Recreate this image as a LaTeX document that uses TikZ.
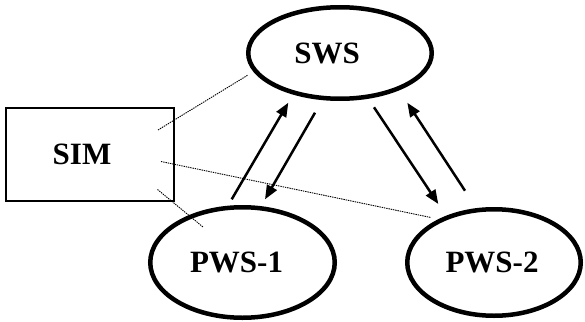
\documentclass[tikz,border=0pt]{standalone}
\usepackage{fontspec}
\setmainfont{Liberation Serif}
\usetikzlibrary{shapes.geometric,arrows.meta}
\newcommand{\shiftby}[2]{\hspace*{#1}#2}
\begin{document}
\begin{tikzpicture}[x=1pt,y=-1pt,
  lbl/.style={font=\fontsize{31}{36}\selectfont\bfseries, inner sep=0pt},
  ell/.style={ellipse, draw, line width=4.5pt, lbl},
  simbox/.style={rectangle, draw, line width=2pt, lbl},
  arr/.style={line width=2.5pt, -{Triangle[length=14pt,width=11pt]}},
  dot/.style={line width=0.9pt, dash pattern=on 1.4pt off 0.9pt}
]
\useasboundingbox (0,0) rectangle (585,321);
\node[ell, minimum width=183.5pt, minimum height=91.5pt] (sws) at (340,53) {\shiftby{-26pt}{SWS}};
\node[ell, minimum width=184.5pt, minimum height=110.5pt] (pws1) at (242.5,262.5) {\shiftby{-12pt}{PWS-1}};
\node[ell, minimum width=173.5pt, minimum height=106.5pt] (pws2) at (494,262.5) {\shiftby{-4pt}{PWS-2}};
\node[simbox, minimum width=168pt, minimum height=93pt] (sim) at (90,154.5) {\shiftby{-16pt}{SIM}};
% arrow end points
\coordinate (a1s) at (231.7,199.3);
\coordinate (a1e) at (288.3,102.7);
\coordinate (a2s) at (315,112.7);
\coordinate (a2e) at (265,199.3);
\coordinate (a3s) at (374,107.3);
\coordinate (a3e) at (438.3,204);
\coordinate (a4s) at (465,190.7);
\coordinate (a4e) at (407.3,102.7);
\draw[arr] (a1s) -- (a1e);
\draw[arr] (a2s) -- (a2e);
\draw[arr] (a3s) -- (a3e);
\draw[arr] (a4s) -- (a4e);
% dotted links
\coordinate (dAs) at (158,130);
\coordinate (dAe) at (248,75);
\coordinate (dBs) at (161,161.5);
\coordinate (dBe) at (431,217.5);
\coordinate (dCs) at (157.5,189.5);
\coordinate (dCe) at (203,227);
\draw[dot] (dAs) -- (dAe);
\draw[dot] (dBs) -- (dBe);
\draw[dot] (dCs) -- (dCe);
\end{tikzpicture}
\end{document}
